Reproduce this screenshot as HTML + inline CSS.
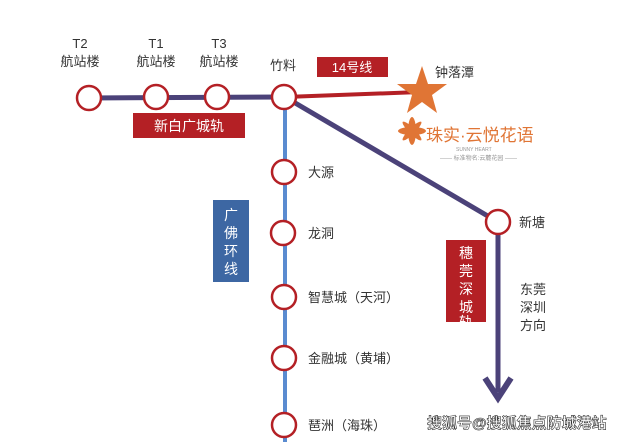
<!DOCTYPE html>
<html><head><meta charset="utf-8"><style>
body{margin:0;background:#fff;width:622px;height:442px;overflow:hidden}
svg{display:block}
text{font-family:"Liberation Sans","Noto Sans CJK SC",sans-serif;fill:#333}
</style></head><body>
<svg width="622" height="442" viewBox="0 0 622 442" xmlns="http://www.w3.org/2000/svg">
<line x1="88" y1="98" x2="285" y2="97" stroke="#4b4279" stroke-width="5"/>
<line x1="285" y1="97" x2="420" y2="92" stroke="#b42025" stroke-width="4"/>
<line x1="285" y1="97" x2="285" y2="442" stroke="#5a8bd0" stroke-width="4"/>
<polyline points="285,97 498,222 498,392" fill="none" stroke="#4b4279" stroke-width="5"/>
<polyline points="485,378 498,398 511,378" fill="none" stroke="#4b4279" stroke-width="6"/>
<rect x="317" y="57" width="71" height="20" fill="#b42025"/>
<text x="352" y="72" font-size="13" text-anchor="middle" style="fill:#fff">14号线</text>
<rect x="133" y="113" width="112" height="25" fill="#b42025"/>
<text x="189" y="131" font-size="14" text-anchor="middle" style="fill:#fff">新白广城轨</text>
<rect x="213" y="200" width="36" height="82" fill="#3d67a3"/>
<text x="231" y="220" font-size="14" text-anchor="middle" style="fill:#fff">广</text>
<text x="231" y="238" font-size="14" text-anchor="middle" style="fill:#fff">佛</text>
<text x="231" y="256" font-size="14" text-anchor="middle" style="fill:#fff">环</text>
<text x="231" y="274" font-size="14" text-anchor="middle" style="fill:#fff">线</text>
<rect x="446" y="240" width="40" height="82" fill="#b42025"/>
<text x="466" y="258" font-size="14" text-anchor="middle" style="fill:#fff">穗</text>
<text x="466" y="276" font-size="14" text-anchor="middle" style="fill:#fff">莞</text>
<text x="466" y="294" font-size="14" text-anchor="middle" style="fill:#fff">深</text>
<text x="466" y="312" font-size="14" text-anchor="middle" style="fill:#fff">城</text>
<text x="466" y="327" font-size="14" text-anchor="middle" style="fill:#fff">轨</text>
<polygon points="422,66 428,84 447,84 432,95 437,113 422,102 407,113 412,95 397,84 416,84" fill="#e07535"/>
<g fill="none" stroke="#b42025" stroke-width="2.5">
<circle cx="89" cy="98" r="12" fill="#fff"/>
<circle cx="156" cy="97" r="12" fill="#fff"/>
<circle cx="217" cy="97" r="12" fill="#fff"/>
<circle cx="284" cy="97" r="12" fill="#fff"/>
<circle cx="284" cy="172" r="12" fill="#fff"/>
<circle cx="283" cy="233" r="12" fill="#fff"/>
<circle cx="284" cy="297" r="12" fill="#fff"/>
<circle cx="284" cy="358" r="12" fill="#fff"/>
<circle cx="284" cy="425" r="12" fill="#fff"/>
<circle cx="498" cy="222" r="12" fill="#fff"/>
</g>
<g font-size="13" text-anchor="middle">
<text x="80" y="48">T2</text><text x="80" y="66">航站楼</text>
<text x="156" y="48">T1</text><text x="156" y="66">航站楼</text>
<text x="219" y="48">T3</text><text x="219" y="66">航站楼</text>
<text x="283" y="70">竹料</text>
</g>
<g font-size="13">
<text x="435" y="77">钟落潭</text>
<text x="308" y="177">大源</text>
<text x="308" y="238">龙洞</text>
<text x="308" y="302">智慧城（天河）</text>
<text x="308" y="363">金融城（黄埔）</text>
<text x="308" y="430">琶洲（海珠）</text>
<text x="519" y="227">新塘</text>
<text x="520" y="294">东莞</text>
<text x="520" y="312">深圳</text>
<text x="520" y="330">方向</text>
</g>
<g fill="#e07535">
<ellipse cx="412" cy="131" rx="4" ry="14"/><ellipse cx="412" cy="131" rx="14" ry="4"/>
<ellipse cx="412" cy="131" rx="3" ry="13" transform="rotate(45 412 131)"/>
<ellipse cx="412" cy="131" rx="3" ry="13" transform="rotate(-45 412 131)"/>
</g>
<text x="426" y="141" font-size="17" style="fill:#e07535">珠实·云悦花语</text>
<text x="456" y="151" font-size="5" style="fill:#999">SUNNY HEART</text>
<text x="440" y="160" font-size="6" style="fill:#999">—— 标准物名:云麓花园 ——</text>
<text x="427" y="428" font-size="15" font-weight="bold" style="fill:#fff;stroke:#333;stroke-width:0.6">搜狐号@搜狐焦点防城港站</text>
</svg>
</body></html>
